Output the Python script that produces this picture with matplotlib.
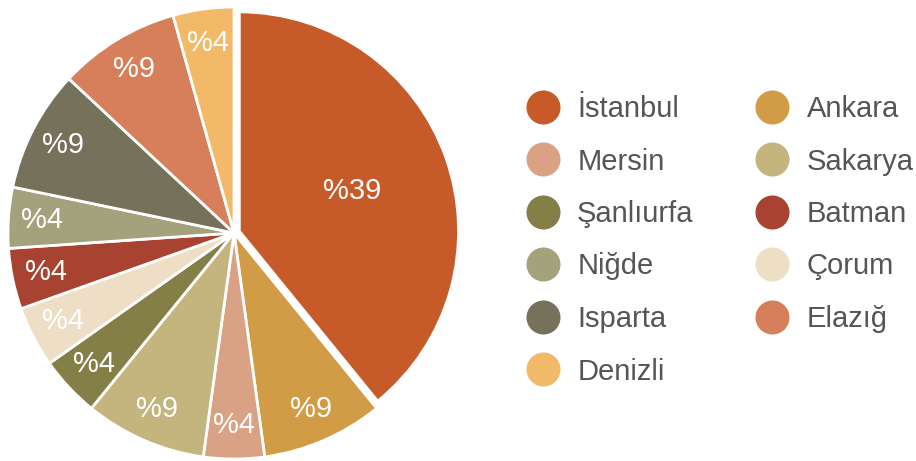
import matplotlib
matplotlib.use("Agg")
import matplotlib.pyplot as plt
from matplotlib.lines import Line2D

plt.rcParams["font.family"] = ["Liberation Sans", "DejaVu Sans"]

# slices, clockwise from 12 o'clock
cities = ["İstanbul", "Ankara", "Mersin", "Sakarya", "Şanlıurfa", "Çorum",
          "Batman", "Niğde", "Isparta", "Elazığ", "Denizli"]
counts = [9, 2, 1, 2, 1, 1, 1, 1, 2, 2, 1]
colors = ["#C65A28", "#D29B45", "#D9A285", "#C4B57F", "#837F47", "#EDDEC5",
          "#A84231", "#A4A27C", "#76715A", "#D77E5B", "#F2B968"]

# legend order (column by column)
legend_order = ["İstanbul", "Mersin", "Şanlıurfa", "Niğde", "Isparta", "Denizli",
                "Ankara", "Sakarya", "Batman", "Çorum", "Elazığ"]

W, H = 916, 461
fig = plt.figure(figsize=(W / 100, H / 100), dpi=100)
ax = fig.add_axes([8 / W, 2 / H, 452 / W, 452 / H])

explode = [0.025] + [0] * (len(counts) - 1)
pct_dist = 0.85
wedges, texts, autotexts = ax.pie(
    counts,
    colors=colors,
    startangle=90,
    counterclock=False,
    explode=explode,
    autopct=lambda p: f"%{p:.0f}",
    pctdistance=pct_dist,
    wedgeprops={"edgecolor": "white", "linewidth": 2},
    textprops={"color": "white", "fontsize": 21},
)
# exploded slice is drawn a bit smaller, label nearer the centre
wedges[0].set_radius(0.97)
x, y = autotexts[0].get_position()
autotexts[0].set_position((x * 0.54 / pct_dist, y * 0.54 / pct_dist))

ax.set_xlim(-1, 1)
ax.set_ylim(-1, 1)
ax.set_aspect("equal")
ax.axis("off")

col = dict(zip(cities, colors))
handles = [
    Line2D([], [], linestyle="none", marker="o", markersize=24.5,
           markerfacecolor=col[c], markeredgecolor="none")
    for c in legend_order
]
fig.legend(
    handles, legend_order,
    loc="upper left",
    bbox_to_anchor=(525.5 / W, 1 - 95 / H),
    ncol=2,
    frameon=False,
    fontsize=21,
    labelcolor="#555555",
    handlelength=1.2,
    handletextpad=0.57,
    labelspacing=0.84,
    columnspacing=2.1,
    borderpad=0,
    borderaxespad=0,
)

fig.savefig("out.png", dpi=100)
